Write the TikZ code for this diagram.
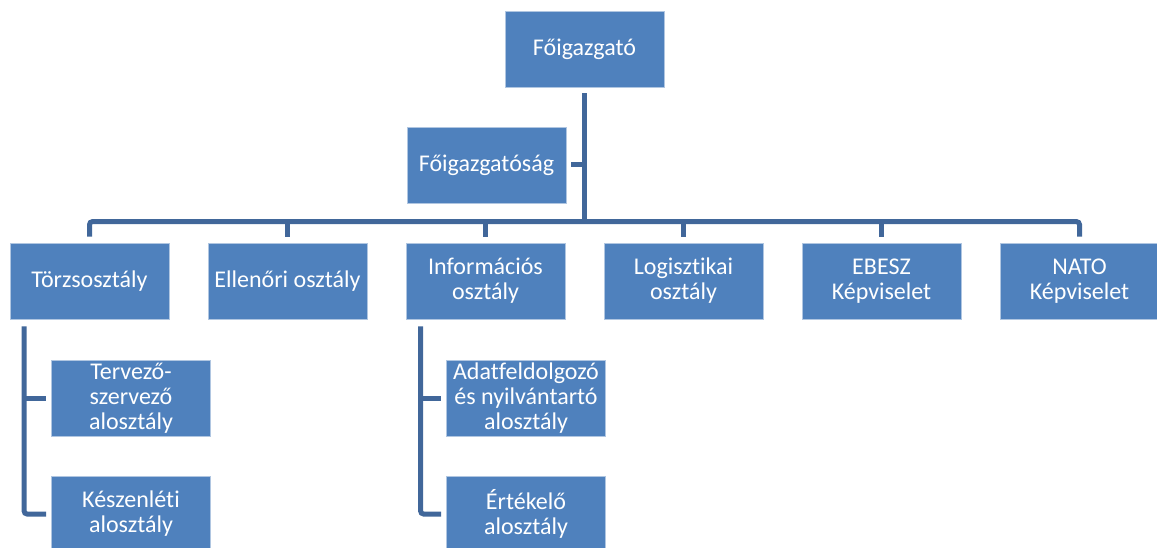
\documentclass[tikz,border=0pt]{standalone}
\usepackage{fontspec}
\setmainfont[Ligatures={NoCommon}]{Carlito}
\usetikzlibrary{calc}
\definecolor{boxblue}{HTML}{4F81BD}
\definecolor{linkblue}{HTML}{41679A}
\begin{document}
\begin{tikzpicture}[x=1pt,y=-1pt,
  box/.style={rectangle, fill=boxblue, draw=white!55!boxblue, line width=0.8pt,
    text=white, minimum width=159pt, minimum height=76pt, inner sep=0pt,
    align=center, font=\fontsize{24}{25}\selectfont},
  conn/.style={draw=linkblue, line width=5pt}]
\useasboundingbox (0,0) rectangle (1157,548);
% nodes
\node[box] (fo) at (584.5,49) {Főigazgató};
\node[box] (fosag) at (486.5,165) {Főigazgatóság};
\node[box] (torzs) at (89.5,281) {Törzsosztály};
\node[box] (ell) at (287.5,281) {Ellenőri osztály};
\node[box] (info) at (485.5,281) {Információs\\osztály};
\node[box] (logi) at (683.5,281) {Logisztikai\\osztály};
\node[box] (ebesz) at (881.5,281) {EBESZ\\Képviselet};
\node[box] (nato) at (1079.5,281) {NATO\\Képviselet};
\node[box] (terv) at (131,398) {Tervező-\\szervező\\alosztály};
\node[box] (kesz) at (131,514) {Készenléti\\alosztály};
\node[box] (adat) at (526,398) {Adatfeldolgozó\\és nyilvántartó\\alosztály};
\node[box] (ert) at (526,514) {Értékelő\\alosztály};
% main connectors
\coordinate (busL) at ([yshift=21pt]torzs.north);
\coordinate (busR) at ([yshift=21pt]nato.north);
\draw[conn, rounded corners=3pt] ([yshift=6pt]torzs.north) -- (busL) -- (busR) -- ([yshift=6pt]nato.north);
\foreach \n in {ell,info,logi,ebesz} \draw[conn] ([yshift=6pt]\n.north) -- (\n.north |- busL);
\draw[conn] ([yshift=-6pt]fo.south) -- (fo.south |- busL);
\draw[conn] ([xshift=5pt]fosag.east) -- (fosag.east -| fo.south);
% child connectors
\coordinate (tv) at ([xshift=14.5pt,yshift=-7pt]torzs.south west);
\draw[conn, rounded corners=3pt] (tv) |- ([xshift=-5pt]kesz.west);
\draw[conn] (tv |- terv.west) -- ([xshift=-5pt]terv.west);
\coordinate (iv) at ([xshift=15pt,yshift=-7pt]info.south west);
\draw[conn, rounded corners=3pt] (iv) |- ([xshift=-5pt]ert.west);
\draw[conn] (iv |- adat.west) -- ([xshift=-5pt]adat.west);
\end{tikzpicture}
\end{document}
